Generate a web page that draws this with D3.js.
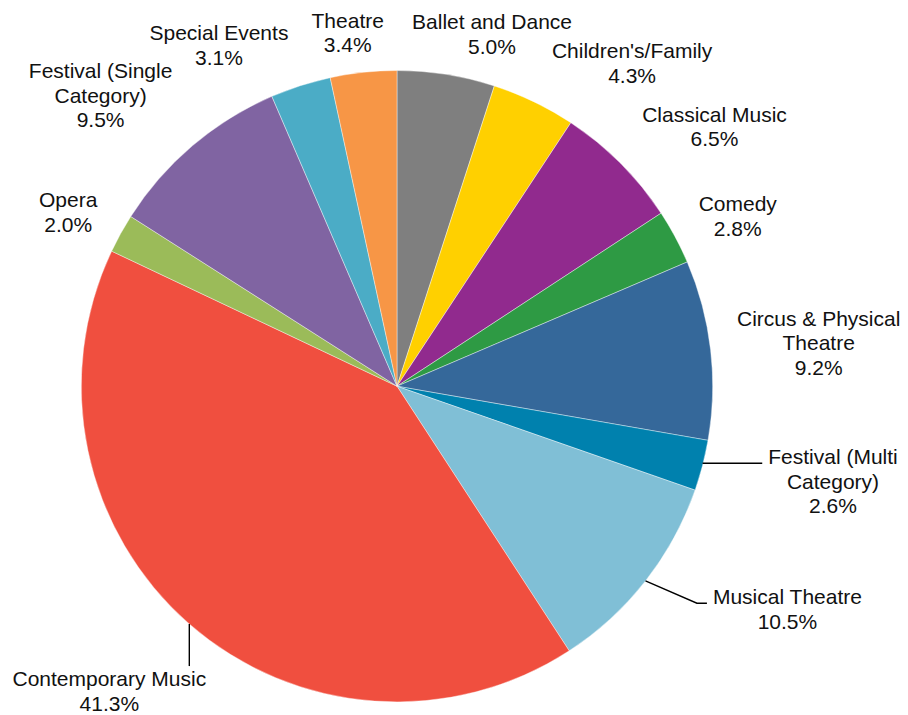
<!DOCTYPE html>
<html>
<head>
<meta charset="utf-8">
<script src="https://cdn.jsdelivr.net/npm/d3@7"></script>
<style>
  html, body { margin: 0; padding: 0; background: #fff; }
  svg { display: block; }
  text { font-family: "Liberation Sans", Arial, sans-serif; fill: #111; }
</style>
</head>
<body>
<svg id="chart" width="908" height="715"></svg>
<script>
// Share of events by genre (%), clockwise from 12 o'clock
const categories = [
  "Ballet and Dance", "Children's/Family", "Classical Music", "Comedy",
  "Circus & Physical Theatre", "Festival (Multi Category)", "Musical Theatre",
  "Contemporary Music", "Opera", "Festival (Single Category)", "Special Events", "Theatre"
];
const shares = [5.0, 4.3, 6.5, 2.8, 9.2, 2.6, 10.5, 41.3, 2.0, 9.5, 3.1, 3.4];
const labelLines = [
  ["Ballet and Dance"], ["Children's/Family"], ["Classical Music"], ["Comedy"],
  ["Circus & Physical", "Theatre"], ["Festival (Multi", "Category)"], ["Musical Theatre"],
  ["Contemporary Music"], ["Opera"], ["Festival (Single", "Category)"], ["Special Events"], ["Theatre"]
];
const colors = [
  "#7f7f7f", "#ffd000", "#912a8e", "#2e9a44", "#35689a", "#0081ae",
  "#80bfd6", "#f04f3f", "#9bbb59", "#8064a2", "#4bacc6", "#f79646"
];

// Label placement: nudge from the default outside-end spot, and leader style
const labelLayout = {
  "Ballet and Dance":           { dx: 32,  dy: -8 },
  "Children's/Family":          { dx: 60,  dy: -9 },
  "Classical Music":            { dx: 37,  dy: -13.5 },
  "Comedy":                     { dx: 21,  dy: -5 },
  "Circus & Physical Theatre":  { dx: 19,  dy: -1 },
  "Festival (Multi Category)":  { dx: 60,  dy: 5,   leader: "side" },
  "Musical Theatre":            { dx: 77,  dy: 8.5, leader: "side" },
  "Contemporary Music":         { dx: -11, dy: 43,  leader: "below" },
  "Opera":                      { dx: -20, dy: -5.5 },
  "Festival (Single Category)": { dx: -40, dy: -16 },
  "Special Events":             { dx: -58, dy: -9 },
  "Theatre":                    { dx: -11, dy: -7 }
};

const cx = 397, cy = 386.2, R = 315.7;
const fontSize = 21, lineH = 24.5, gap = 8;

const svg = d3.select("#chart");
const g = svg.append("g").attr("transform", `translate(${cx},${cy})`);

const data = categories.map((c, i) => ({ name: c, value: shares[i], lines: labelLines[i], color: colors[i] }));

const pie = d3.pie().value(d => d.value).sort(null).startAngle(0).endAngle(2 * Math.PI);
const arc = d3.arc().innerRadius(0).outerRadius(R);
const arcs = pie(data);

g.selectAll("path.slice")
  .data(arcs)
  .join("path")
  .attr("class", "slice")
  .attr("d", arc)
  .attr("fill", d => d.data.color)
  .attr("stroke", "#ffffff")
  .attr("stroke-width", 0.4);

const labels = g.append("g");
const leaders = g.append("g");

arcs.forEach(a => {
  const mid = (a.startAngle + a.endAngle) / 2;
  const dir = [Math.sin(mid), -Math.cos(mid)];
  const lines = a.data.lines.concat([a.data.value.toFixed(1) + "%"]);
  const t = labels.append("text")
    .attr("text-anchor", "middle")
    .attr("font-size", fontSize);
  lines.forEach(l => t.append("tspan").attr("x", 0).text(l));
  let w = 0;
  t.selectAll("tspan").each(function () { w = Math.max(w, this.getComputedTextLength()); });
  const n = lines.length;
  const h = n * lineH;
  const lay = labelLayout[a.data.name] || { dx: 0, dy: 0 };
  const px = dir[0] * (R + gap), py = dir[1] * (R + gap);
  const bx = px + dir[0] * w / 2 + lay.dx;
  const by = py + dir[1] * h / 2 + lay.dy;
  const b1 = by + 7 - (n - 1) * lineH / 2;
  t.selectAll("tspan").attr("x", bx).attr("y", (d, i) => b1 + i * lineH);

  if (lay.leader) {
    const sx = dir[0] * R, sy = dir[1] * R;
    let pts;
    if (lay.leader === "side") {
      const ex = bx - w / 2 - 6, ey = b1 - 1;
      pts = Math.abs(ey - sy) < 4
        ? [[sx, ey], [ex, ey]]
        : [[sx, sy], [ex - 10, ey], [ex, ey]];
    } else {
      const ey = b1 - fontSize * 0.72 - 5;
      pts = [[sx, sy], [sx, ey]];
    }
    leaders.append("path")
      .attr("d", d3.line()(pts))
      .attr("fill", "none")
      .attr("stroke", "#000")
      .attr("stroke-width", 1.4);
  }
});
</script>
</body>
</html>
